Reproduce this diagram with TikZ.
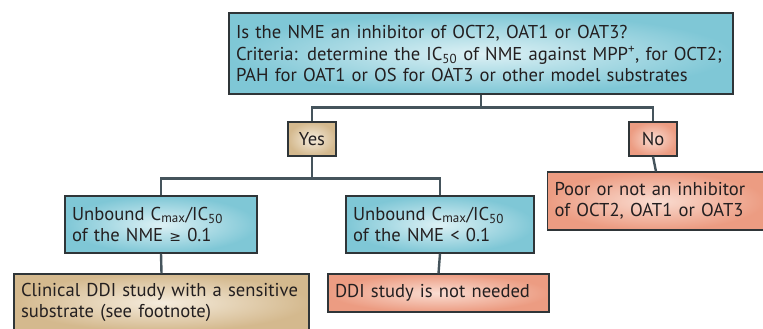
\documentclass[tikz,border=0pt]{standalone}
\usepackage{fontspec}
\setmainfont{PT Sans}
\newfontfamily\symfont{DejaVu Sans}
\usetikzlibrary{positioning}
\definecolor{bluebox}{HTML}{7FC7D6}
\definecolor{bluelight}{HTML}{DDF1F5}
\definecolor{tanbox}{HTML}{D4B98E}
\definecolor{tanlight}{HTML}{F5ECDD}
\definecolor{redbox}{HTML}{EC9C82}
\definecolor{redlight}{HTML}{FADDD2}
\definecolor{boxline}{HTML}{2F3538}
\definecolor{linkline}{HTML}{45545C}
\definecolor{txt}{HTML}{231F20}
\tikzset{
    % Define box style
    box/.style={
           draw=boxline,
           line width=1.2pt,
           inner xsep=7pt,
           inner ysep=0pt,
           align=left,
           text=txt,
           font=\fontsize{18.6}{21.5}\selectfont,},
    % Define colour fills
    bluefill/.style={shading=radial, inner color=bluelight, outer color=bluebox},
    tanfill/.style={shading=radial, inner color=tanlight, outer color=tanbox},
    redfill/.style={shading=radial, inner color=redlight, outer color=redbox},
    % Define connector style
    link/.style={
           draw=linkline,
           line width=2.4pt,}
}

\begin{document}
\begin{tikzpicture}[x=1pt,y=-1pt]
\useasboundingbox (0,0) rectangle (763,329);
%Nodes
\node[box,bluefill,text width=490pt,minimum height=81pt](question) at (481,53.5)
  {Is the NME an inhibitor of OCT2, OAT1 or OAT3?\\
   Criteria: determine the IC\textsubscript{50} of NME against MPP\textsuperscript{+}, for OCT2;\\
   PAH for OAT1 or OS for OAT3 or other model substrates};

\node[box,tanfill,align=center,inner xsep=0pt,minimum width=48pt,minimum height=34pt](yes) at (312,139){Yes};
\node[box,redfill,align=center,inner xsep=0pt,minimum width=48pt,minimum height=34pt](no) at (653,139){No};

\node[box,bluefill,text width=178pt,minimum height=57pt](high) at (161,224.5)
  {Unbound C\textsubscript{max}/IC\textsubscript{50}\\of the NME {\symfont\fontsize{14}{21}\selectfont ≥} 0.1};
\node[box,bluefill,text width=174pt,minimum height=57pt](low) at (440,224.5)
  {Unbound C\textsubscript{max}/IC\textsubscript{50}\\of the NME < 0.1};

\node[box,redfill,text width=203pt,minimum height=58pt](poor) at (656,201)
  {Poor or not an inhibitor\\of OCT2, OAT1 or OAT3};

\node[box,tanfill,text width=281pt,minimum height=57pt](clinical) at (161.5,302.5)
  {Clinical DDI study with a sensitive\\substrate (see footnote)};
\node[box,redfill,text width=207pt,minimum height=38pt](notneeded) at (438.5,293)
  {DDI study is not needed};

%Connectors
\draw[link] (question.south) -- ++(0,13) -| (yes.north);
\draw[link] (question.south) -- ++(0,13) -| (no.north);
\draw[link] (yes.south) -- ++(0,22) -| (high.north);
\draw[link] (yes.south) -- ++(0,22) -| (low.north);
\draw[link] (no.south) -- (poor.north);
\draw[link] (high.south) -- (clinical.north);
\draw[link] (low.south) -- (notneeded.north);

\end{tikzpicture}
\end{document}
